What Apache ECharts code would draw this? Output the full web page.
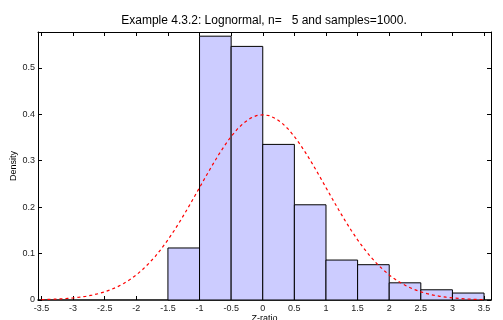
<!DOCTYPE html>
<html>
<head>
<meta charset="utf-8">
<script src="https://cdn.jsdelivr.net/npm/echarts@6/dist/echarts.min.js"></script>
<style>
html,body{margin:0;padding:0;background:#fff;}
#c{width:503px;height:320px;}
</style>
</head>
<body>
<div id="c"></div>
<script>
// Histogram bins (left edges, width 0.5) and densities
const binStarts = [-1.5, -1.0, -0.5, 0.0, 0.5, 1.0, 1.5, 2.0, 2.5, 3.0];
const binWidth = 0.5;
const densities = [0.112, 0.568, 0.546, 0.335, 0.205, 0.086, 0.076, 0.037, 0.022, 0.015];

// Red dashed reference curve
const curveX = [-3.5,-3.4,-3.3,-3.2,-3.1,-3.0,-2.9,-2.8,-2.7,-2.6,-2.5,-2.4,-2.3,-2.2,-2.1,-2.0,-1.9,-1.8,-1.7,-1.6,-1.5,-1.4,-1.3,-1.2,-1.1,-1.0,-0.9,-0.8,-0.7,-0.6,-0.5,-0.4,-0.3,-0.2,-0.1,0.0,0.1,0.2,0.3,0.4,0.5,0.6,0.7,0.8,0.9,1.0,1.1,1.2,1.3,1.4,1.5,1.6,1.7,1.8,1.9,2.0,2.1,2.2,2.3,2.4,2.5,2.6,2.7,2.8,2.9,3.0,3.1,3.2,3.3,3.4,3.5];
const curveY = [0.0009,0.0012,0.0017,0.0024,0.0033,0.0044,0.0060,0.0079,0.0104,0.0136,0.0175,0.0224,0.0283,0.0355,0.0440,0.0540,0.0656,0.0790,0.0940,0.1109,0.1295,0.1497,0.1714,0.1942,0.2179,0.2420,0.2661,0.2897,0.3123,0.3332,0.3521,0.3683,0.3814,0.3910,0.3970,0.3989,0.3970,0.3910,0.3814,0.3683,0.3521,0.3332,0.3123,0.2897,0.2661,0.2420,0.2179,0.1942,0.1714,0.1497,0.1295,0.1109,0.0940,0.0790,0.0656,0.0540,0.0440,0.0355,0.0283,0.0224,0.0175,0.0136,0.0104,0.0079,0.0060,0.0044,0.0033,0.0024,0.0017,0.0012,0.0009];

// Tick labels
const xTicks = [-3.5,-3,-2.5,-2,-1.5,-1,-0.5,0,0.5,1,1.5,2,2.5,3,3.5];
const yTicks = [0,0.1,0.2,0.3,0.4,0.5];

const titleText = 'Example 4.3.2: Lognormal, n=   5 and samples=1000.';

const FONT = 'Liberation Sans, Arial, Helvetica, sans-serif';
const X_MIN = -3.555, X_MAX = 3.61, Y_MIN = 0, Y_MAX = 0.577;

const histData = binStarts.map((s, i) => [s, s + binWidth, densities[i]]);
const curveData = curveX.map((x, i) => [x, curveY[i]]);

const chart = echarts.init(document.getElementById('c'), null, {renderer: 'canvas'});

const axisLineStyle = {show: true, onZero: false, lineStyle: {color: '#000', width: 1}};
const tickStyle = {inside: true, length: 4, lineStyle: {color: '#000', width: 1}};

chart.setOption({
  animation: false,
  backgroundColor: '#fff',
  title: {
    text: titleText,
    left: 259, top: 10, textAlign: 'center',
    textStyle: {fontFamily: FONT, fontSize: 12, fontWeight: 'normal', color: '#000'}
  },
  grid: {left: 38, right: 12, top: 32, bottom: 20, containLabel: false, outerBoundsMode: 'none'},
  xAxis: [{
    type: 'value', position: 'bottom', min: X_MIN, max: X_MAX,
    name: 'Z-ratio', nameLocation: 'middle', nameGap: 14, nameMoveOverlap: false,
    nameTextStyle: {fontFamily: FONT, fontSize: 9, color: '#000'},
    axisLine: {show: true, onZero: false, lineStyle: {color: '#000', width: 1.5}},
    axisTick: Object.assign({customValues: xTicks}, tickStyle),
    axisLabel: {customValues: xTicks, fontFamily: FONT, fontSize: 9, color: '#222', margin: 4,
                formatter: v => String(v)},
    splitLine: {show: false}
  }, {
    type: 'value', position: 'top', min: X_MIN, max: X_MAX,
    axisLine: axisLineStyle,
    axisTick: Object.assign({customValues: xTicks}, tickStyle),
    axisLabel: {show: false},
    splitLine: {show: false}
  }],
  yAxis: [{
    type: 'value', position: 'left', min: Y_MIN, max: Y_MAX,
    name: 'Density', nameLocation: 'middle', nameGap: 20, nameRotate: 90, nameMoveOverlap: false,
    nameTextStyle: {fontFamily: FONT, fontSize: 9, color: '#000'},
    axisLine: axisLineStyle,
    axisTick: Object.assign({customValues: yTicks}, tickStyle),
    axisLabel: {customValues: yTicks, fontFamily: FONT, fontSize: 9, color: '#222', margin: 3,
                formatter: v => String(v)},
    splitLine: {show: false}
  }, {
    type: 'value', position: 'right', min: Y_MIN, max: Y_MAX,
    axisLine: axisLineStyle,
    axisTick: Object.assign({customValues: yTicks}, tickStyle),
    axisLabel: {show: false},
    splitLine: {show: false}
  }],
  series: [{
    type: 'custom',
    xAxisIndex: 0, yAxisIndex: 0,
    data: histData,
    encode: {x: [0, 1], y: 2},
    renderItem: function (params, api) {
      const p0 = api.coord([api.value(0), api.value(2)]);
      const p1 = api.coord([api.value(1), 0]);
      return {
        type: 'rect',
        shape: {x: p0[0], y: p0[1], width: p1[0] - p0[0], height: p1[1] - p0[1]},
        style: {fill: '#ccccff', stroke: '#000', lineWidth: 1}
      };
    },
    z: 2
  }, {
    type: 'line',
    xAxisIndex: 0, yAxisIndex: 0,
    data: curveData,
    showSymbol: false, symbol: 'none', smooth: false,
    lineStyle: {color: '#ff0000', width: 1.2, type: [3, 3]},
    z: 3
  }]
});
</script>
</body>
</html>
